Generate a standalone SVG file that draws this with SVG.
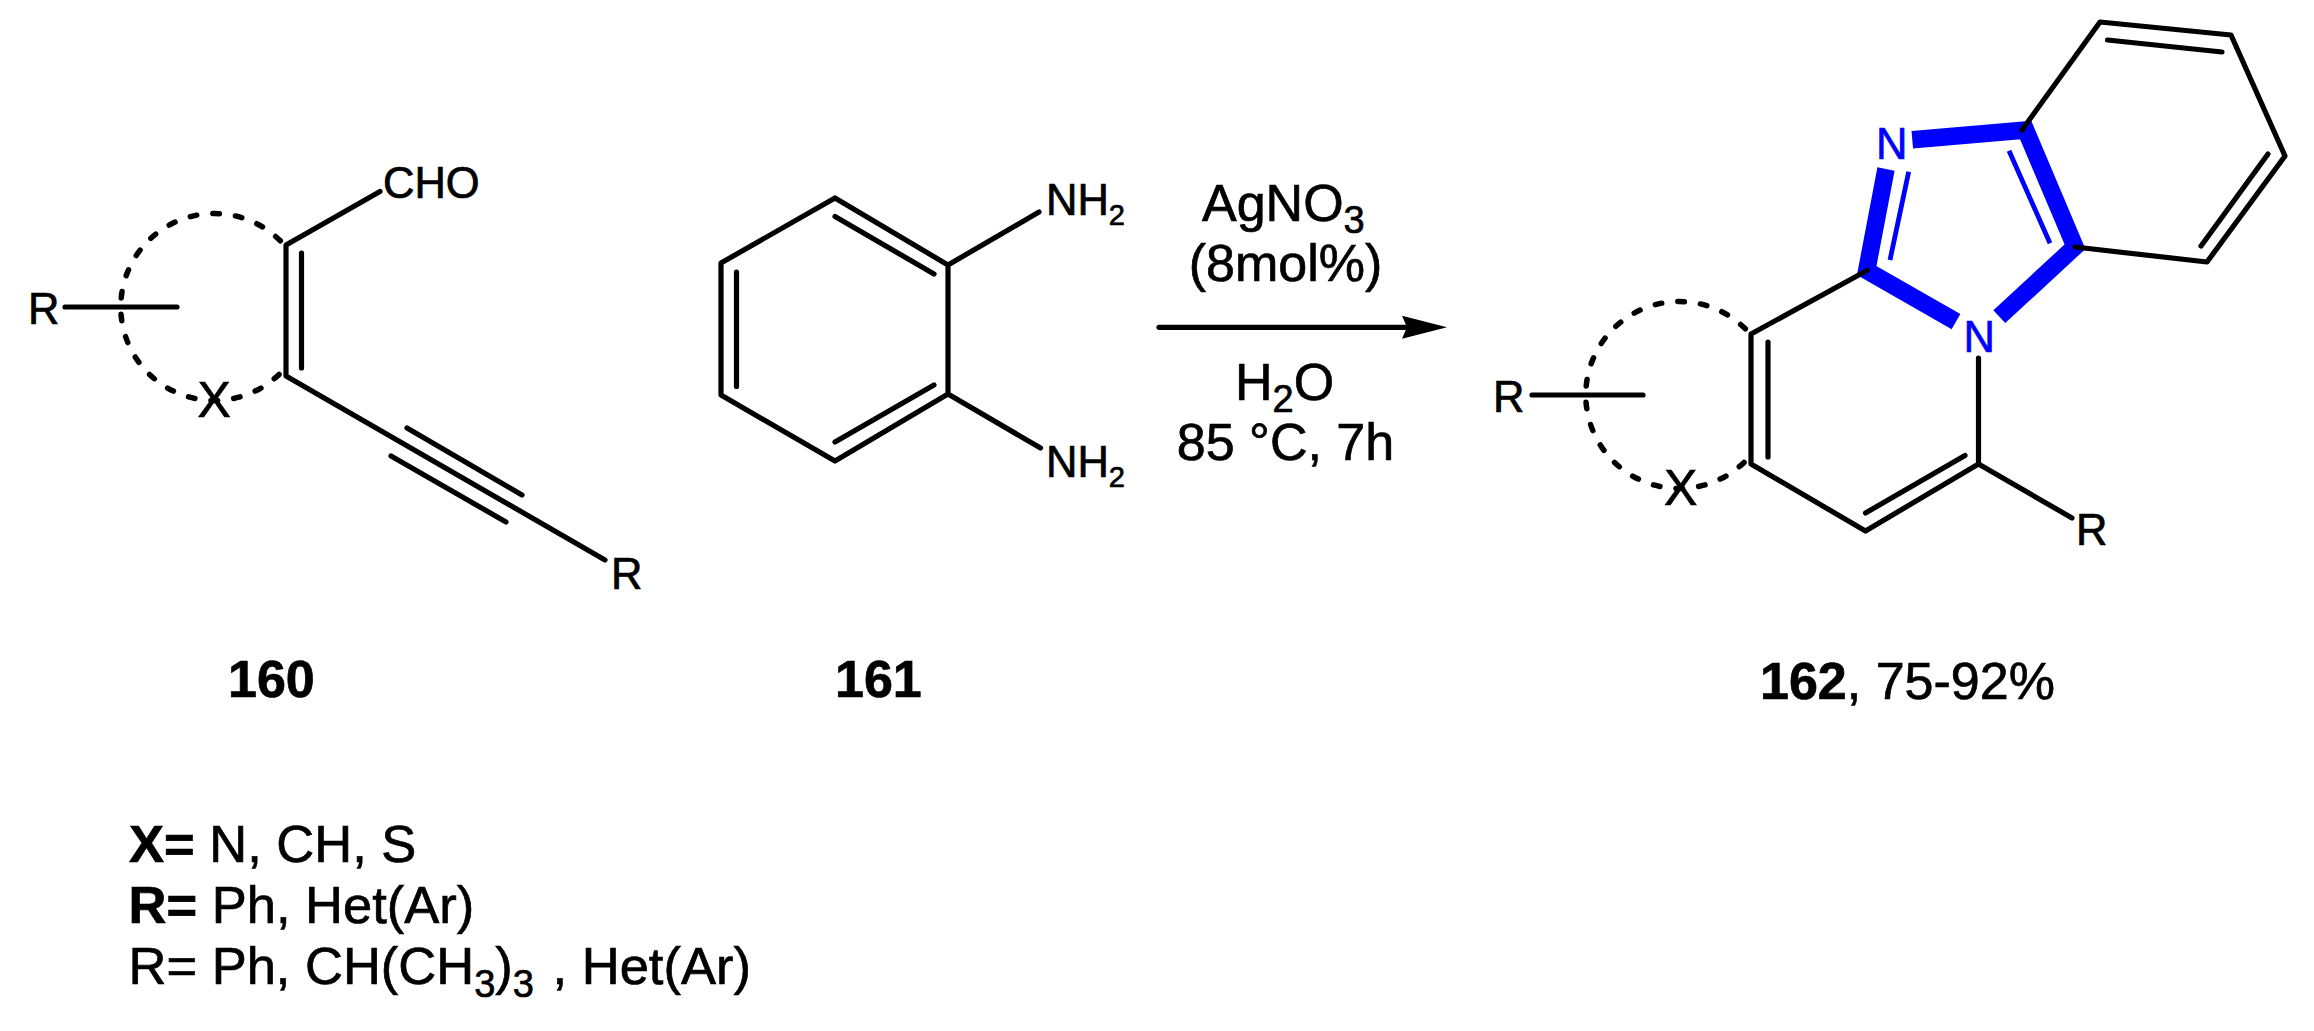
<svg xmlns="http://www.w3.org/2000/svg" width="2314" height="1031" viewBox="0 0 2314 1031">
<style>
text{font-family:"Liberation Sans",Arial,sans-serif;fill:#000;stroke:#000;stroke-width:.7px;font-size:52px}
.a{font-size:43.5px}
.x{font-size:50px}
.b{font-weight:bold}
.s{font-size:38px}
.as{font-size:29px}
.l{font-size:52.5px}
text.bl{fill:#0000ff;stroke:#0000ff}
.bond{stroke:#000;stroke-width:5.2px;fill:none;stroke-linecap:round;stroke-linejoin:round}
.arc{stroke:#000;stroke-width:5.5px;fill:none;stroke-linecap:round;stroke-dasharray:6.5 16.2;stroke-dashoffset:-1}
.thick{stroke:#0000ff;stroke-width:17.5px;fill:none;stroke-linejoin:miter}
.thin{stroke:#0000ff;stroke-width:4.8px;fill:none}
</style>
<defs>
<path id="ring" class="arc" d="M281,241.5A93.5,93.5 0 1 0 281,372.5"/>
<marker id="head" markerUnits="userSpaceOnUse" markerWidth="46" markerHeight="24" viewBox="0 0 46 24" refX="5" refY="12" orient="auto"><path d="M0,0.5L45,12L0,23.5L5,12Z" fill="#000"/></marker>
</defs>
<rect width="2314" height="1031" fill="#fff"/>
<g id="compound-160">
<use href="#ring"/>
<path class="bond" d="M65,307H177M380,191.5L286,245V376L605,560M301.5,253V368M407,428L522,495M391,456L506,522"/>
<text class="a" x="383" y="198">CHO</text>
<text class="a" x="28" y="323.5">R</text>
<text class="a" x="611" y="589">R</text>
<text class="x" x="197.5" y="417">X</text>
<text class="b" x="228" y="697">160</text>
</g>
<g id="compound-161">
<path class="bond" d="M835,198L948,265V394L835,461L721,395V263ZM835,216.5L934,274M934,385L835,442M736.5,272V386.5M948,265L1039,212M948,394L1040.5,448"/>
<text class="a" x="1046" y="215">NH<tspan class="as" dy="10">2</tspan></text>
<text class="a" x="1046" y="477">NH<tspan class="as" dy="10">2</tspan></text>
<text class="b" x="835" y="697">161</text>
</g>
<g id="compound-162">
<use href="#ring" transform="translate(1465,88)"/>
<path class="thick" d="M1912.3,139.8L2025.7,130L2075,246.7L1999.3,316.7M1956,321.7L1866.7,270.5L1886,169"/>
<path class="thin" d="M1908.7,171.7L1890,260M2009,150.7L2050,243.3"/>
<path class="bond" d="M2022,130L2100,22L2231,35L2285,156L2207,262L2075,247M2107.5,40L2222,52M2268,154L2201,246"/>
<path class="bond" d="M1532,395H1643M1867,270.5L1751,334V464L1865.5,531L1978.5,464V358M1768,342V457M1865.5,513L1965,455.5M1978.5,464L2072,518"/>
<text class="a bl" x="1876" y="159">N</text>
<text class="a bl" x="1963.5" y="351.5">N</text>
<text class="a" x="2076" y="545">R</text>
<text class="a" x="1493" y="412">R</text>
<text class="x" x="1664" y="505">X</text>
<text x="1760" y="699"><tspan class="b">162</tspan>, 75-92%</text>
</g>
<g id="connectors">
<line class="bond" x1="1159" y1="327.3" x2="1407" y2="327.3" marker-end="url(#head)"/>
</g>
<g id="reaction-conditions">
<text x="1202" y="221">AgNO<tspan class="s" dy="12">3</tspan></text>
<text x="1285.5" y="281" text-anchor="middle">(8mol%)</text>
<text x="1235" y="399.5">H<tspan class="s" dy="12">2</tspan><tspan dy="-12">O</tspan></text>
<text x="1285.5" y="460" text-anchor="middle">85 °C, 7h</text>
</g>
<g id="substituents">
<text class="l" x="129" y="862"><tspan class="b">X=</tspan> N, CH, S</text>
<text class="l" x="128.5" y="923"><tspan class="b">R=</tspan> Ph, Het(Ar)</text>
<text class="l" x="128.5" y="984">R= Ph, CH(CH<tspan class="s" dy="13">3</tspan><tspan dy="-13">)</tspan><tspan class="s" dy="13">3</tspan><tspan dy="-13" dx="4"> , Het(Ar)</tspan></text>
</g>
</svg>
